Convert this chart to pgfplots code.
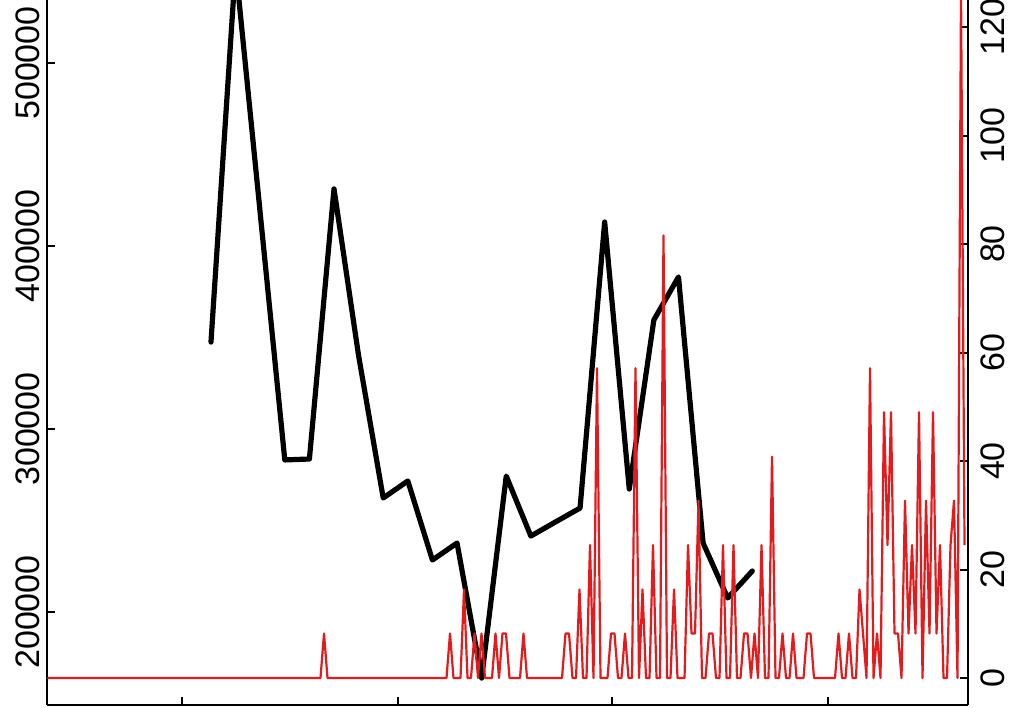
\documentclass[border=0pt]{standalone}
\usepackage{fontspec}
\setmainfont{Liberation Sans}
\usepackage{pgfplots}
\pgfplotsset{compat=1.18}
\usepackage{pgfplotstable}
\definecolor{rred}{HTML}{E41A1C}

% red series, one value per step (x = row index)
\pgfplotstableread[row sep=\\]{
v\\
0\\0\\0\\0\\0\\0\\0\\0\\0\\0\\
0\\0\\0\\0\\0\\0\\0\\0\\0\\0\\
0\\0\\0\\0\\0\\0\\0\\0\\0\\0\\
0\\0\\0\\0\\0\\0\\0\\0\\0\\0\\
0\\0\\0\\0\\0\\0\\0\\0\\0\\0\\
0\\0\\0\\0\\0\\0\\0\\0\\0\\0\\
0\\0\\0\\0\\0\\0\\0\\0\\0\\0\\
0\\0\\0\\0\\0\\0\\0\\0\\0\\8.2\\
0\\0\\0\\0\\0\\0\\0\\0\\0\\0\\
0\\0\\0\\0\\0\\0\\0\\0\\0\\0\\
0\\0\\0\\0\\0\\0\\0\\0\\0\\0\\
0\\0\\0\\0\\0\\8.2\\0\\0\\0\\16.3\\
0\\0\\8.2\\0\\8.2\\0\\0\\0\\8.2\\0\\
8.2\\8.2\\0\\0\\0\\0\\8.2\\0\\0\\0\\
0\\0\\0\\0\\0\\0\\0\\0\\8.2\\8.2\\
0\\0\\16.3\\0\\0\\24.5\\0\\57.1\\0\\0\\
0\\8.2\\8.2\\0\\0\\8.2\\0\\0\\57.1\\0\\
16.3\\0\\0\\24.5\\0\\0\\81.6\\0\\0\\16.3\\
0\\0\\0\\24.5\\8.2\\8.2\\32.7\\0\\0\\8.2\\
8.2\\0\\0\\24.5\\0\\0\\24.5\\0\\0\\8.2\\
8.2\\0\\8.2\\0\\24.5\\0\\0\\40.8\\0\\0\\
8.2\\0\\0\\8.2\\0\\0\\0\\8.2\\8.2\\0\\
0\\0\\0\\0\\0\\0\\8.2\\0\\0\\8.2\\
0\\0\\16.3\\8.2\\0\\57.1\\0\\8.2\\0\\49\\
24.5\\49\\8.2\\8.2\\0\\32.7\\8.2\\24.5\\8.2\\49\\
0\\32.7\\8.2\\49\\8.2\\24.5\\0\\0\\24.5\\32.7\\
0\\127\\24.5\\
}\reddata

\pgfplotstableread{
x v
46.71 347500
53.74 553000
60.77 418000
67.80 283100
74.83 283600
81.86 431200
88.89 340000
95.92 262300
102.95 271600
109.98 228400
117.01 237700
124.04 163900
131.07 274300
138.10 241500
145.13 249200
152.16 256800
159.19 413100
166.22 267200
173.25 359600
180.28 383100
187.31 237700
194.34 207650
201.37 222400
}\blackdata

\begin{document}
\begin{tikzpicture}
\pgfplotsset{every axis/.append style={
  width=460.5pt, height=352.5pt, scale only axis,
  xmin=-0.14, xmax=263,
  tick align=inside, major tick length=4pt,
  axis line style={line width=1pt},
  major tick style={line width=1pt, black},
  ticklabel style={font=\fontsize{17}{20}\selectfont},
  /pgf/number format/assume math mode=true,
}}
\begin{axis}[
  name=ax,
  axis x line*=bottom, axis y line*=left,
  ymin=149180, ymax=534426,
  xtick={38.43,100.14,161.29,223.0}, xticklabels={},
  ytick={200000,300000,400000,500000},
  scaled y ticks=false,
  /pgf/number format/fixed, /pgf/number format/1000 sep={},
  yticklabel style={rotate=90, anchor=south},
]
\addplot[black, line width=2.6pt, line join=round, line cap=round] table[x=x, y=v]{\blackdata};
\end{axis}
\begin{axis}[
  axis x line=none, axis y line*=right,
  ymin=-4.98, ymax=125.0,
  ytick={0,20,40,60,80,100,120},
  yticklabel style={rotate=90, anchor=north},
  yticklabel shift=3pt,
]
\addplot[rred, line width=1.1pt, line join=round] table[x expr=\coordindex, y=v]{\reddata};
\end{axis}
\pgfresetboundingbox
\path (ax.south west) ++(-23.5pt,-1pt) rectangle ++(507.5pt,353.5pt);
\end{tikzpicture}
\end{document}
